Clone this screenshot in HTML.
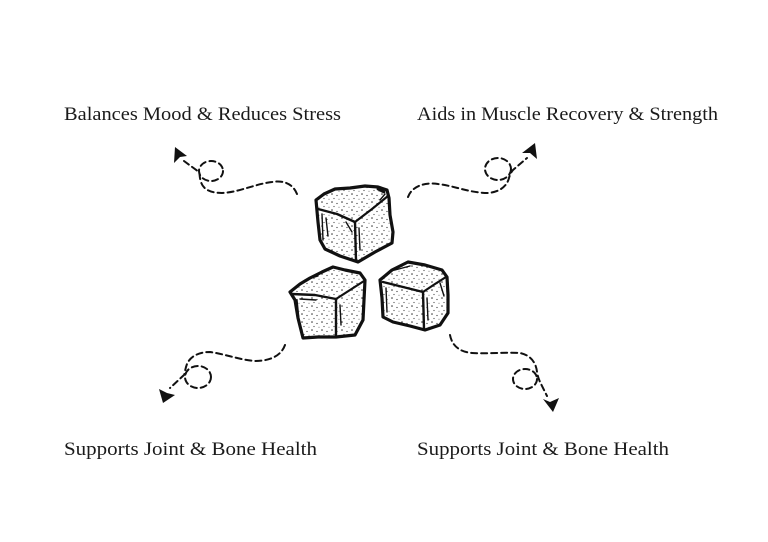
<!DOCTYPE html>
<html>
<head>
<meta charset="utf-8">
<style>
  html,body{margin:0;padding:0;background:#fff;}
  body{width:768px;height:542px;overflow:hidden;}
  svg{display:block;}
  text{font-family:"Liberation Serif","DejaVu Serif",serif;font-size:19px;fill:#1a1a1a;}
</style>
</head>
<body>
<svg width="768" height="542" viewBox="0 0 768 542" xmlns="http://www.w3.org/2000/svg">
  <defs>
    <pattern id="st" width="10" height="8" patternUnits="userSpaceOnUse">
      <rect width="10" height="8" fill="#fff"/>
      <circle cx="2" cy="2" r="0.8" fill="#333"/>
      <circle cx="7" cy="3.5" r="0.65" fill="#444"/>
      <circle cx="4" cy="6.5" r="0.6" fill="#444"/>
      <circle cx="9" cy="7.2" r="0.5" fill="#555"/>
    </pattern>
  </defs>

  <!-- Labels -->
  <text x="64" y="120" textLength="277" lengthAdjust="spacingAndGlyphs">Balances Mood &amp; Reduces Stress</text>
  <text x="417" y="120" textLength="301" lengthAdjust="spacingAndGlyphs">Aids in Muscle Recovery &amp; Strength</text>
  <text x="64" y="455" textLength="253" lengthAdjust="spacingAndGlyphs">Supports Joint &amp; Bone Health</text>
  <text x="417" y="455" textLength="252" lengthAdjust="spacingAndGlyphs">Supports Joint &amp; Bone Health</text>

  <!-- Connectors -->
  <g fill="none" stroke="#111" stroke-width="2" stroke-dasharray="6 4" stroke-linecap="round">
    <path d="M297,194 C293,184 284,180 272,182 C255,184 240,192 222,193 C210,193 203,189 201,182 C199,176 200,173 199,172 L184,161"/>
    <ellipse cx="211" cy="171" rx="12" ry="10"/>
    <path d="M408,197 C412,186 425,182 438,184 C455,186 470,193 488,193 C500,192 507,186 509,178 C510,174 512,171 513,170 L527,158"/>
    <ellipse cx="498" cy="169" rx="13" ry="11"/>
    <path d="M285,345 C281,356 270,361 255,361 C240,360 225,354 210,352 C198,352 190,357 187,364 C185,369 185,373 184,375 L170,388"/>
    <ellipse cx="198" cy="377" rx="13" ry="11"/>
    <path d="M450,335 C452,346 460,352 472,353 C488,354 505,352 520,353 C530,355 536,362 537,372 C538,378 540,382 541,384 L547,396"/>
    <ellipse cx="525" cy="379" rx="12" ry="10"/>
  </g>
  <!-- Arrowheads (concave) -->
  <g fill="#111">
    <polygon points="175,147 174,163 180,157 187,156"/>
    <polygon points="535,143 522,153 530,153 537,159"/>
    <polygon points="163,403 159,389 167,393 175,395"/>
    <polygon points="553,412 543,399 550,402 559,398"/>
  </g>

  <!-- Cubes -->
  <g stroke="#111" stroke-linejoin="round" stroke-linecap="round" fill="url(#st)">
    <path stroke-width="3.2" d="M316,200 L324,194 L335,189 L350,188 L365,186 L378,187 L387,190 L389,198 L390,215 L393,232 L392,243 L375,252 L358,262 L340,256 L325,249 L320,240 L318,222 Z"/>
    <path stroke-width="3.2" d="M290,292 L300,284 L310,278 L322,272 L333,267 L345,270 L360,273 L365,280 L364,300 L363,320 L355,335 L336,337 L318,337 L303,338 L298,318 L295,300 Z"/>
    <path stroke-width="3.2" d="M380,280 L392,270 L408,262 L425,265 L442,270 L447,277 L448,295 L448,313 L440,325 L425,330 L410,326 L393,322 L383,317 L382,298 Z"/>
  </g>
  <g stroke="#111" fill="none" stroke-linejoin="round" stroke-linecap="round">
    <path stroke-width="2.4" d="M318,209 L337,214 L355,222"/>
    <path stroke-width="2.4" d="M355,222 L356,261"/>
    <path stroke-width="2.2" d="M355,222 L372,209 L388,196"/>
    <path stroke-width="1.4" d="M322,214 L323,240 M326,218 L328,236 M346,222 L352,232 M359,228 L360,250 M380,200 L385,194"/>
    <path stroke-width="2.8" d="M378,189 L384,192"/>
    <path stroke-width="2.4" d="M292,294 L315,295 L336,299"/>
    <path stroke-width="2.4" d="M336,299 L336,336"/>
    <path stroke-width="2.2" d="M336,299 L350,290 L364,281"/>
    <path stroke-width="1.4" d="M297,300 L299,320 M300,299 L316,300 M340,305 L341,325 M305,280 L318,276"/>
    <path stroke-width="2.4" d="M383,282 L403,287 L423,292"/>
    <path stroke-width="2.4" d="M423,292 L424,329"/>
    <path stroke-width="2.2" d="M423,292 L435,284 L446,277"/>
    <path stroke-width="1.4" d="M386,288 L387,312 M427,298 L428,320 M395,270 L410,266 M440,283 L444,296"/>
  </g>
</svg>
</body>
</html>
